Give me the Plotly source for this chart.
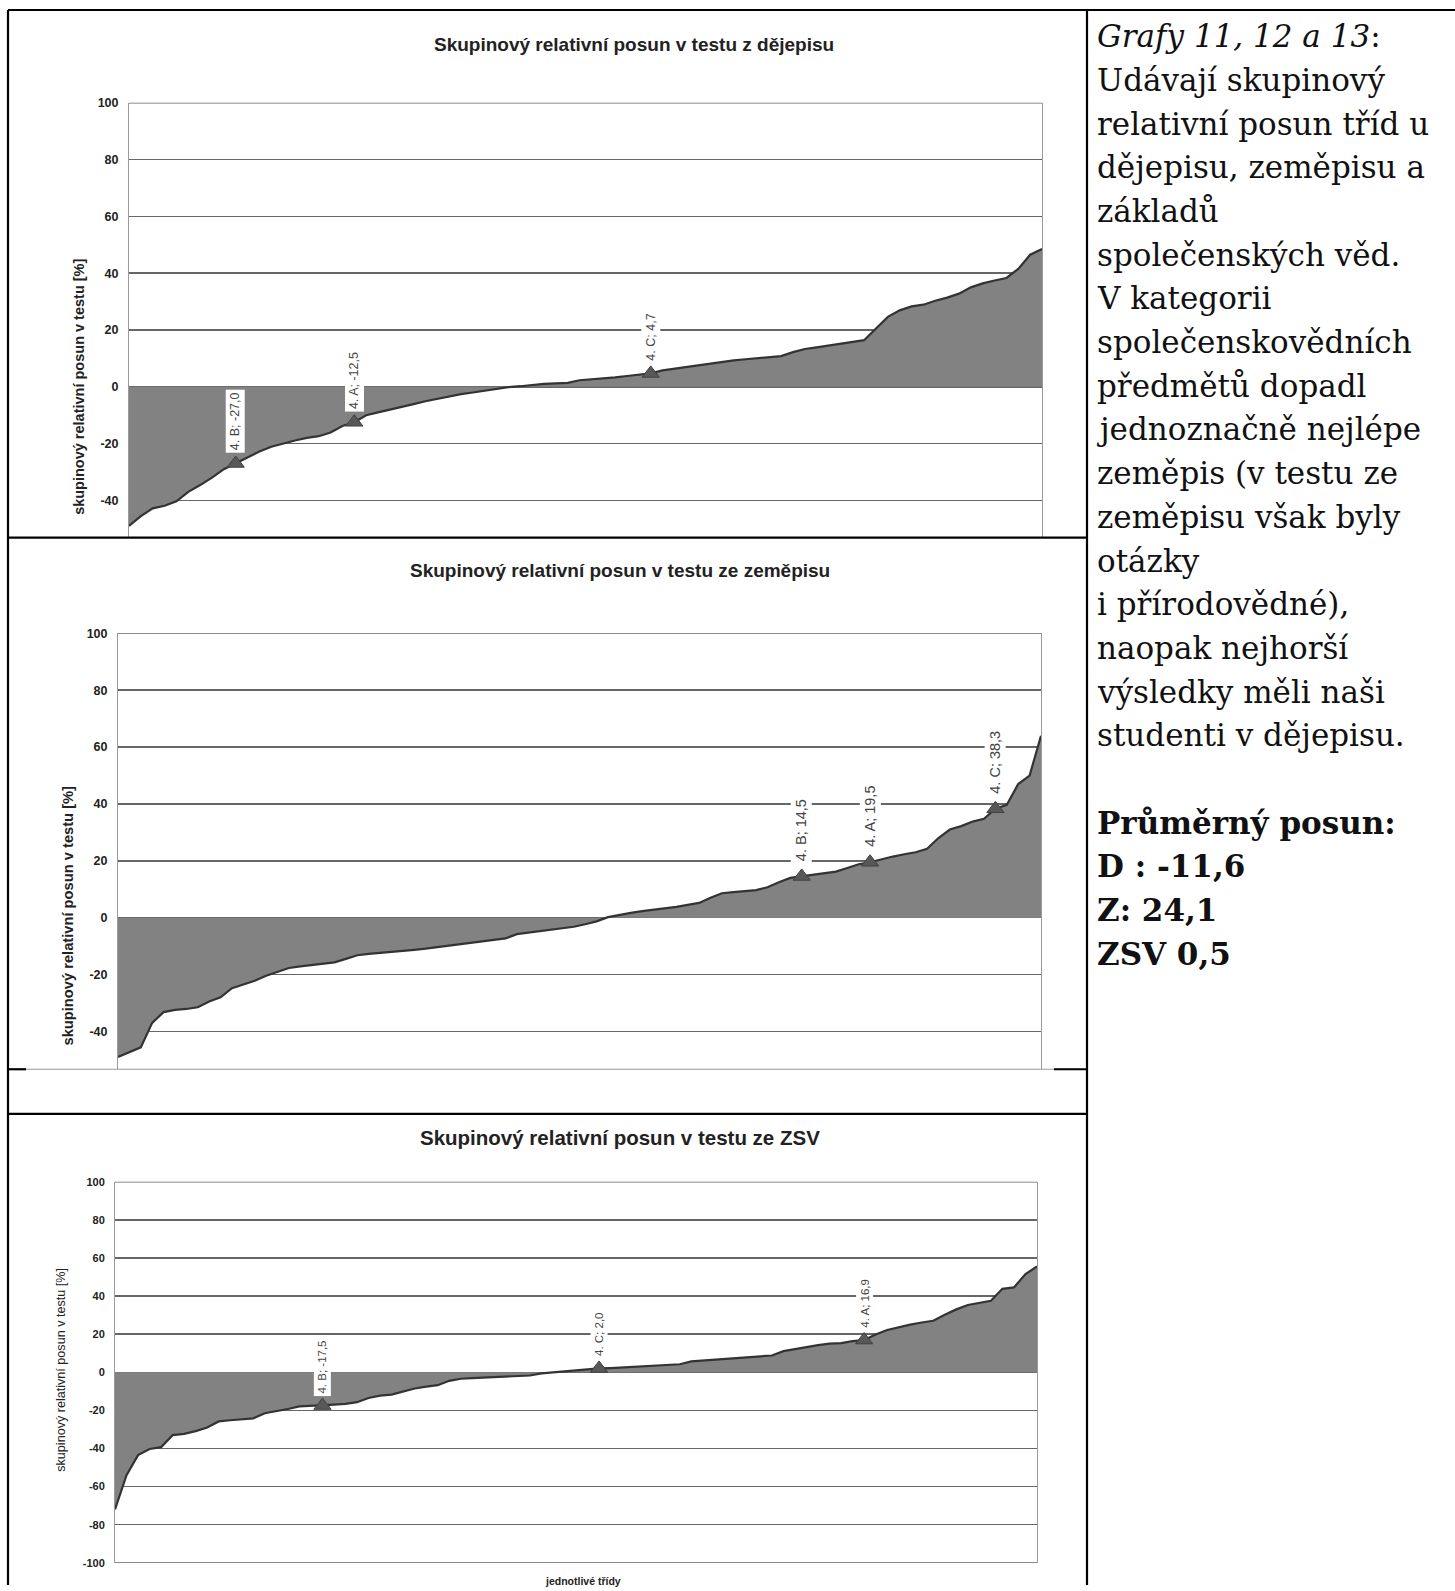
import plotly.graph_objects as go

W, H = 1455, 1591
OFF = 0  # body margin is removed by the post script, so coordinates are page pixels

# ---------------- data ----------------
y_ticks_top = [100, 80, 60, 40, 20, 0, -20, -40]
y_ticks_zsv = [100, 80, 60, 40, 20, 0, -20, -40, -60, -80, -100]

dejepis_values = [
    -49.0, -45.5, -42.8, -41.9, -40.3, -37.0, -34.6, -32.0, -29.0, -27.0,
    -24.8, -22.8, -21.1, -19.9, -18.9, -18.0, -17.4, -16.1, -13.8, -12.5,
    -10.0, -9.0, -8.1, -7.1, -6.1, -5.1, -4.2, -3.3, -2.6, -2.0,
    -1.4, -0.7, -0.1, 0.2, 0.7, 1.0, 1.2, 1.4, 2.3, 2.6,
    3.0, 3.3, 3.8, 4.3, 4.7, 5.8, 6.4, 7.0, 7.6, 8.2,
    8.8, 9.3, 9.7, 10.1, 10.4, 10.8, 12.2, 13.3, 13.9, 14.5,
    15.1, 15.6, 16.4, 20.5, 24.6, 26.9, 28.3, 28.9, 30.3, 31.4,
    32.8, 35.0, 36.4, 37.4, 38.3, 41.5, 46.5, 48.5,
]
dejepis_marker_idx = [9, 19, 44]
dejepis_marker_labels = ["4. B; -27,0", "4. A; -12,5", "4. C; 4,7"]

zemepis_values = [
    -49.0, -47.3, -45.6, -37.0, -33.2, -32.4, -32.1, -31.5, -29.5, -28.0,
    -24.8, -23.5, -22.2, -20.4, -19.0, -17.7, -17.1, -16.6, -16.3, -15.7,
    -14.5, -13.2, -12.7, -12.4, -12.1, -11.8, -11.3, -10.9, -10.4, -10.0,
    -9.5, -8.9, -8.3, -7.8, -7.3, -5.8, -5.3, -4.9, -4.3, -3.9,
    -3.2, -2.3, -1.3, 0.2, 1.0, 1.7, 2.3, 2.8, 3.2, 3.8,
    4.5, 5.2, 7.0, 8.6, 9.0, 9.3, 9.7, 10.7, 12.5, 14.0,
    14.5, 15.2, 15.6, 16.2, 17.5, 18.8, 19.5, 20.6, 21.5, 22.3,
    23.0, 24.2, 28.0, 31.0, 32.2, 33.8, 34.8, 38.3, 39.7, 47.0,
    50.0, 64.0,
]
zemepis_marker_idx = [60, 66, 77]
zemepis_marker_labels = ["4. B; 14,5", "4. A; 19,5", "4. C; 38,3"]

zsv_values = [
    -72.0, -54.0, -43.5, -40.3, -39.3, -33.0, -32.3, -30.9, -29.0, -25.8,
    -25.2, -24.7, -24.2, -21.5, -20.5, -19.3, -17.9, -17.7, -17.5, -17.0,
    -16.6, -15.7, -13.5, -12.3, -11.7, -10.0, -8.5, -7.5, -6.8, -4.5,
    -3.4, -3.1, -2.8, -2.6, -2.4, -2.1, -1.7, -0.6, -0.1, 0.3,
    0.8, 1.6, 2.0, 2.2, 2.5, 2.8, 3.2, 3.6, 3.9, 4.2,
    5.7, 6.1, 6.5, 7.0, 7.5, 7.9, 8.3, 8.8, 11.1, 12.3,
    13.2, 14.2, 15.0, 15.3, 16.3, 16.9, 19.8, 22.2, 23.8, 25.0,
    26.1, 27.0, 30.2, 33.0, 35.3, 36.3, 37.5, 43.8, 44.5, 51.5,
    55.5,
]
zsv_marker_idx = [18, 42, 65]
zsv_marker_labels = ["4. B; -17,5", "4. C; 2,0", "4. A; 16,9"]

titles = [
    "Skupinový relativní posun v testu z dějepisu",
    "Skupinový relativní posun v testu ze zeměpisu",
    "Skupinový relativní posun v testu ze ZSV",
]
y_title = "skupinový relativní posun v testu [%]"
x_title = "jednotlivé třídy"

text_lines = [
    "<i>Grafy 11, 12 a 13</i>:",
    "Udávají skupinový",
    "relativní posun tříd u",
    "dějepisu, zeměpisu a",
    "základů",
    "společenských věd.",
    "V kategorii",
    "společenskovědních",
    "předmětů dopadl",
    "jednoznačně nejlépe",
    "zeměpis (v testu ze",
    "zeměpisu však byly",
    "otázky",
    "i přírodovědné),",
    "naopak nejhorší",
    "výsledky měli naši",
    "studenti v dějepisu.",
]
bold_lines = ["Průměrný posun:", "D : -11,6", "Z: 24,1", "ZSV 0,5"]

# ---------------- helpers ----------------
def px_x(p):
    return (p - OFF) / W


def px_y(p):
    return 1 - (p - OFF) / H


SANS = "Liberation Sans, Arial, sans-serif"
FILL = "#828282"
LINE = "#333333"
GRID = "#666666"
MARK = "#585858"

fig = go.Figure()

charts = [
    dict(values=dejepis_values, idx=dejepis_marker_idx, labels=dejepis_marker_labels,
         ax="", xl=129, xr=1042, yt=96.5, yb=535, ymin=-53.1, ymax=100, ticks=y_ticks_top,
         tick_size=12.5, lab_size=12.5, lab_shift=10, title_y=38, title_x=634, title_size=19,
         yt_x=79, yt_y=383, yt_size=14.5, yt_bold=True),
    dict(values=zemepis_values, idx=zemepis_marker_idx, labels=zemepis_marker_labels,
         ax="2", xl=118, xr=1041, yt=631.5, yb=1071, ymin=-53.3, ymax=100, ticks=y_ticks_top,
         tick_size=12.5, lab_size=14.5, lab_shift=12, title_y=568, title_x=620, title_size=19,
         yt_x=68, yt_y=916, yt_size=14.7, yt_bold=True),
    dict(values=zsv_values, idx=zsv_marker_idx, labels=zsv_marker_labels,
         ax="3", xl=115, xr=1037, yt=1184.4, yb=1568.6, ymin=-100, ymax=100, ticks=y_ticks_zsv,
         tick_size=11, lab_size=11.5, lab_shift=9, title_y=1140, title_x=620, title_size=20.5,
         yt_x=61, yt_y=1374, yt_size=12.6, yt_bold=False),
]

annotations = []
shapes = []
for n, c in enumerate(charts):
    xs = list(range(len(c["values"])))
    xa = "x" + c["ax"]
    ya = "y" + c["ax"]
    fig.add_trace(go.Scatter(
        x=xs, y=c["values"], mode="lines", fill="tozeroy",
        fillcolor=FILL, line=dict(color=LINE, width=2.2),
        xaxis=xa, yaxis=ya, hoverinfo="skip", showlegend=False,
    ))
    mx = c["idx"]
    my = [c["values"][i] for i in mx]
    fig.add_trace(go.Scatter(
        x=mx, y=my, mode="markers",
        marker=dict(symbol="triangle-up", size=15, color=MARK,
                    line=dict(color="#404040", width=1)),
        xaxis=xa, yaxis=ya, hoverinfo="skip", showlegend=False,
    ))
    for i, v, t in zip(mx, my, c["labels"]):
        annotations.append(dict(
            x=i, y=v, xref=xa, yref=ya, text=t, textangle=-90, showarrow=False,
            xanchor="center", yanchor="bottom", yshift=c["lab_shift"],
            bgcolor="white", borderpad=2,
            font=dict(family=SANS, size=c["lab_size"], color="#444444"),
        ))
    layout_x = dict(
        domain=[px_x(c["xl"]), px_x(c["xr"])], range=[0, len(xs) - 1],
        showgrid=False, zeroline=False, showline=False, showticklabels=False,
        ticks="", anchor=ya, fixedrange=True,
    )
    layout_y = dict(
        domain=[px_y(c["yb"]), px_y(c["yt"])], range=[c["ymin"], c["ymax"]],
        tickvals=c["ticks"], ticktext=[str(t) for t in c["ticks"]],
        showgrid=True, gridcolor=GRID, gridwidth=1.5, zeroline=False,
        showline=True, linecolor="#9a9a9a", linewidth=1, mirror=True,
        ticks="", ticklabelstandoff=7, anchor=xa, fixedrange=True,
        tickfont=dict(family=SANS, size=c["tick_size"], color="#222222", weight="bold"),
    )
    fig.update_layout(**{"xaxis" + c["ax"]: layout_x, "yaxis" + c["ax"]: layout_y})

    # edge gridlines (top 100 line, and -100 line on the ZSV chart)
    for edge in (c["ymax"], c["ymin"]):
        if edge in c["ticks"]:
            shapes.append(dict(
                type="line", xref=xa + " domain", yref=ya, x0=0, x1=1, y0=edge, y1=edge,
                line=dict(color=GRID, width=1.5), layer="below",
            ))

    annotations.append(dict(
        x=px_x(c["title_x"]), y=px_y(c["title_y"]), xref="paper", yref="paper",
        text="<b>" + titles[n] + "</b>", showarrow=False,
        xanchor="center", yanchor="middle",
        font=dict(family=SANS, size=c["title_size"], color="#222222"),
    ))
    annotations.append(dict(
        x=px_x(c["yt_x"]), y=px_y(c["yt_y"]), xref="paper", yref="paper",
        text=("<b>" + y_title + "</b>") if c["yt_bold"] else y_title,
        textangle=-90, showarrow=False, xanchor="center", yanchor="middle",
        font=dict(family=SANS, size=c["yt_size"], color="#222222"),
    ))

annotations.append(dict(
    x=px_x(583), y=px_y(1587), xref="paper", yref="paper",
    text="<b>" + x_title + "</b>", showarrow=False, xanchor="center", yanchor="middle",
    font=dict(family=SANS, size=10.5, color="#222222"),
))

# right text column
SERIF = "DejaVu Serif, Liberation Serif, serif"
LH = 44.05
TOP = 29.5
for k, line in enumerate(text_lines):
    annotations.append(dict(
        x=px_x(1095), y=px_y(TOP + LH * k), xref="paper", yref="paper",
        text=line, showarrow=False, xanchor="left", yanchor="middle",
        font=dict(family=SERIF, size=31, color="#111111"),
    ))
for k, line in enumerate(bold_lines):
    annotations.append(dict(
        x=px_x(1095), y=px_y(TOP + LH * (18 + k)), xref="paper", yref="paper",
        text="<b>" + line + "</b>", showarrow=False, xanchor="left", yanchor="middle",
        font=dict(family=SERIF, size=31, color="#111111"),
    ))


# table border lines
def hline(x0, x1, y, color="black", width=2.2):
    return dict(type="line", xref="paper", yref="paper", x0=px_x(x0), x1=px_x(x1),
                y0=px_y(y), y1=px_y(y), line=dict(color=color, width=width))


def vline(x, y0, y1, color="black", width=2.2):
    return dict(type="line", xref="paper", yref="paper", x0=px_x(x), x1=px_x(x),
                y0=px_y(y0), y1=px_y(y1), line=dict(color=color, width=width))


shapes += [
    hline(8, W, 3),
    vline(8, 3, H),
    vline(1087, 3, H),
    hline(8, 1087, 535),
    hline(8, 26, 1071),
    hline(1054, 1087, 1071),
    hline(26, 1054, 1071, color="#9a9a9a", width=1),
    hline(8, 1087, 1116),
]

fig.update_layout(
    width=W, height=H,
    margin=dict(l=0, r=0, t=0, b=0),
    paper_bgcolor="white", plot_bgcolor="white",
    showlegend=False,
    annotations=annotations,
    shapes=shapes,
)

fig.write_html(
    "out.html",
    config={"displayModeBar": False, "staticPlot": True},
    post_script="document.body.style.margin='0';document.body.style.padding='0';",
)
